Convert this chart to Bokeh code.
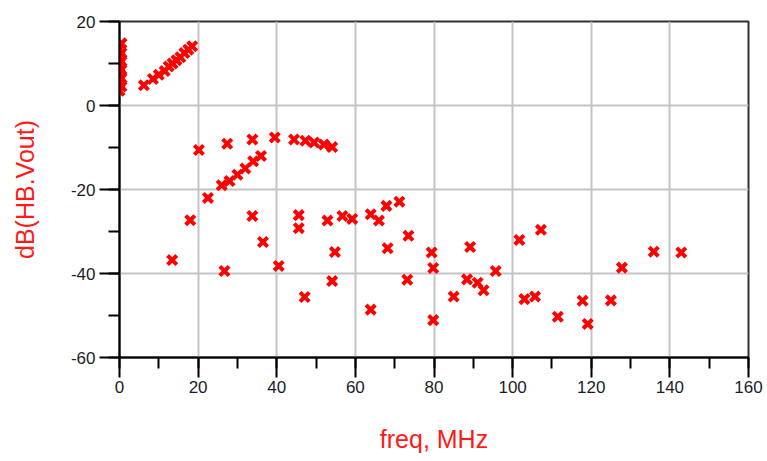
from bokeh.plotting import figure
from bokeh.models import Range1d, SingleIntervalTicker, PrintfTickFormatter
from bokeh.embed import file_html
from bokeh.resources import INLINE

# frequency (MHz) and level (dB) of each harmonic-balance point
freq_mhz = [
    0, 0.5, 0, 0.5, 0, 0.5, 0, 0.5, 0, 0.5, 0, 0.5,
    6.2, 8.5, 10, 11.5, 12.5, 13.5, 14.5, 15.5, 16.5, 17.5, 18.5,
    20.2, 27.4, 33.8, 39.5, 44.4, 47.3, 49.5, 52, 54.1,
    22.5, 26, 28, 30, 32, 34, 36,
    13.4, 18, 26.7, 33.8, 36.5, 40.5, 45.6, 45.6, 47.1, 52.9,
    54.8, 54.1, 56.7, 59.2, 63.9, 66, 67.9, 71.2, 68.2, 63.9,
    73.5, 73.2, 79.4, 79.8, 79.8, 85, 89.2, 88.4, 91.1, 92.6,
    95.7, 101.7, 107.2, 103, 105.7, 111.5, 117.8, 119.1, 125, 127.8,
    135.9, 142.9,
]
db_vout = [
    3.5, 4.5, 5.5, 6.5, 7.5, 8.5, 9.5, 10.5, 11.5, 12.5, 13.5, 14.8,
    4.8, 6.3, 7.3, 8.2, 9.3, 10, 10.8, 11.5, 12.5, 13.3, 14.1,
    -10.6, -9.1, -8.1, -7.6, -8.1, -8.4, -8.8, -9.3, -9.9,
    -22, -19, -18, -16.5, -15, -13.3, -12,
    -36.8, -27.3, -39.4, -26.3, -32.5, -38.2, -26.1, -29.2, -45.6, -27.4,
    -34.9, -41.8, -26.3, -27, -25.9, -27.4, -23.9, -22.9, -34, -48.6,
    -31, -41.5, -35, -38.7, -51.1, -45.5, -33.7, -41.4, -42.2, -44,
    -39.4, -32, -29.6, -46.1, -45.5, -50.3, -46.5, -52, -46.4, -38.6,
    -34.8, -35,
]

x_title = "freq, MHz"
y_title = "dB(HB.Vout)"

p = figure(width=767, height=461,
           x_range=Range1d(0, 160), y_range=Range1d(-60, 20),
           output_backend="svg", toolbar_location=None,
           min_border_left=119, min_border_right=19,
           min_border_top=21, min_border_bottom=104)

p.scatter(freq_mhz, db_vout, marker="x", size=13, line_width=4,
          line_color="#ff0000")

p.xaxis.ticker = SingleIntervalTicker(interval=20, num_minor_ticks=2)
p.yaxis.ticker = SingleIntervalTicker(interval=20, num_minor_ticks=2)
p.xaxis.formatter = PrintfTickFormatter(format="%d")
p.yaxis.formatter = PrintfTickFormatter(format="%d")

for ax in (p.xaxis[0], p.yaxis[0]):
    ax.axis_line_color = "black"
    ax.axis_line_width = 2
    ax.major_tick_line_color = "black"
    ax.minor_tick_line_color = "black"
    ax.major_tick_line_width = 2
    ax.minor_tick_line_width = 2
    ax.major_tick_in = 0
    ax.minor_tick_in = 0
    ax.major_tick_out = 20
    ax.minor_tick_out = 11
    ax.major_label_text_font = "Liberation Sans"
    ax.major_label_text_font_size = "17px"
    ax.major_label_text_color = "#1c1c28"
    ax.axis_label_text_font = "Liberation Sans"
    ax.axis_label_text_font_size = "25px"
    ax.axis_label_text_font_style = "normal"
    ax.axis_label_text_color = "#ff1a1a"

p.xaxis.axis_label = x_title
p.yaxis.axis_label = y_title
p.xaxis.major_label_standoff = 3
p.yaxis.major_label_standoff = 4
p.xaxis.axis_label_standoff = 29
p.yaxis.axis_label_standoff = 29

p.xgrid.grid_line_color = "#c4c4c4"
p.ygrid.grid_line_color = "#c4c4c4"
p.xgrid.grid_line_width = 2
p.ygrid.grid_line_width = 2

p.outline_line_color = "#303030"
p.outline_line_width = 2
p.outline_line_alpha = 1.0
p.background_fill_color = "white"
p.border_fill_color = "white"

open("out.html", "w").write(file_html(p, INLINE))
